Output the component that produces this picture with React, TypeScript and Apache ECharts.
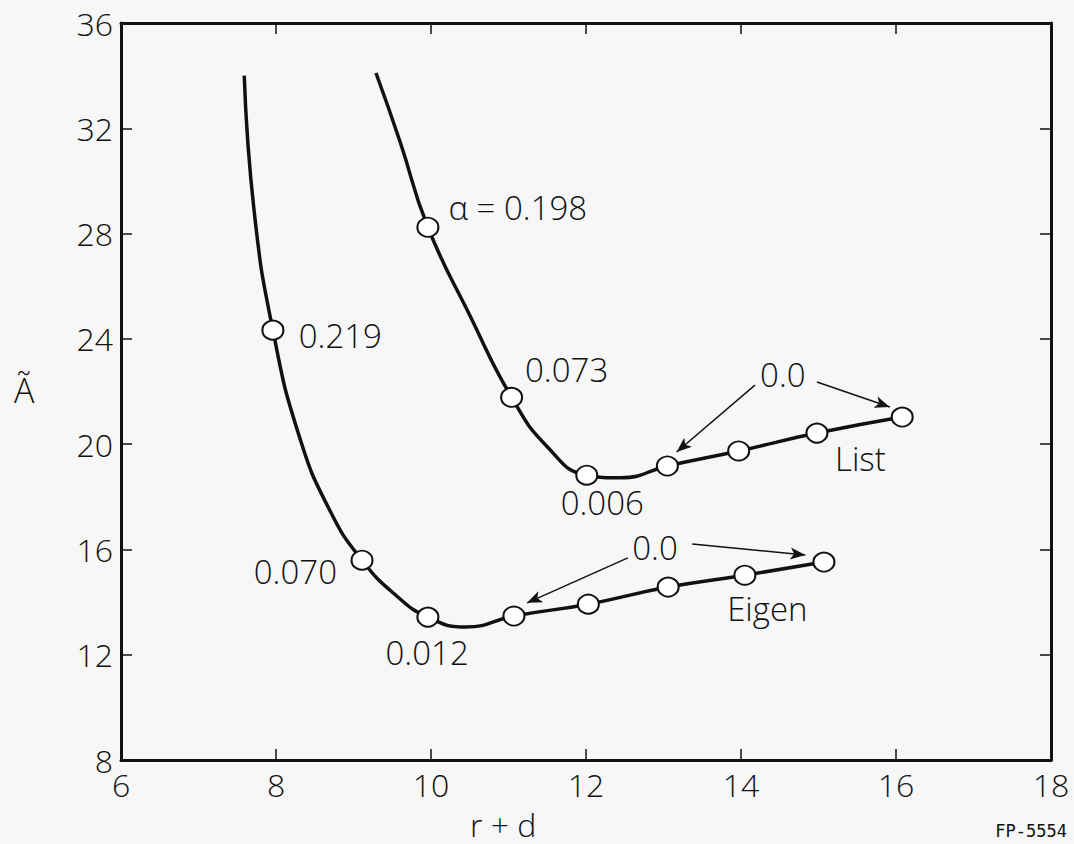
import React, { useEffect, useRef } from "react";
import * as echarts from "echarts";

// Axis ranges / ticks
const xTicks = [6, 8, 10, 12, 14, 16, 18];
const yTicks = [8, 12, 16, 20, 24, 28, 32, 36];

const listCurve: number[][] = [
  [9.29, 34.1], [9.6, 31.5], [9.96, 28.24], [10.5, 24.9], [11.04, 21.78],
  [11.5, 19.9], [12.01, 18.82], [12.45, 18.72], [13.05, 19.17], [13.97, 19.74],
  [14.98, 20.42], [16.08, 21.03],
];
const listPoints: number[][] = [
  [9.96, 28.24], [11.04, 21.78], [12.01, 18.82], [13.05, 19.17],
  [13.97, 19.74], [14.98, 20.42], [16.08, 21.03],
];

const eigenCurve: number[][] = [
  [7.59, 34.0], [7.72, 28.8], [7.96, 24.33], [8.3, 20.3], [8.7, 17.45],
  [9.11, 15.59], [9.55, 14.25], [9.96, 13.43], [10.45, 13.05], [11.07, 13.47],
  [12.03, 13.92], [13.06, 14.57], [14.05, 15.02], [15.07, 15.52],
];
const eigenPoints: number[][] = [
  [7.96, 24.33], [9.11, 15.59], [9.96, 13.43], [11.07, 13.47], [12.03, 13.92],
  [13.06, 14.57], [14.05, 15.02], [15.07, 15.52],
];

// Text annotations (data coordinates of label centres)
const annotationTexts = ["α = 0.198", "0.219", "0.073", "0.006", "0.070", "0.012", "0.0", "0.0", "List", "Eigen"];
const annotationPos: number[][] = [
  [11.12, 29.0], [8.83, 24.14], [11.75, 22.82], [12.21, 17.77], [8.25, 15.15],
  [9.95, 12.07], [14.54, 22.66], [12.89, 16.09], [15.54, 19.47], [14.34, 13.77],
];

// Arrows from "0.0" labels to points: [x1, y1, x2, y2]
const arrows: number[][] = [
  [14.18, 22.24, 13.17, 19.7],
  [14.98, 22.36, 15.92, 21.41],
  [12.54, 15.68, 11.24, 13.97],
  [13.37, 16.21, 14.83, 15.79],
];

const FONT = "'Open Sans', 'DejaVu Sans', sans-serif";
const INK = "#111111";

export default function App() {
  const ref = useRef<HTMLDivElement>(null);

  useEffect(() => {
    if (!ref.current) return;
    const chart = echarts.init(ref.current, undefined, { renderer: "svg" });

    const axisCommon = {
      axisLine: { show: true, lineStyle: { color: INK, width: 3 } },
      axisTick: { show: true, inside: true, length: 11, lineStyle: { color: INK, width: 1.5 } },
      splitLine: { show: false },
    };

    const markerStyle = { color: "#ffffff", borderColor: INK, borderWidth: 2, opacity: 1 };

    const option: any = {
      animation: false,
      backgroundColor: "#f7f7f7",
      grid: { left: 121, top: 23, right: 23, bottom: 84 },
      xAxis: [
        {
          type: "value",
          min: xTicks[0],
          max: xTicks[xTicks.length - 1],
          interval: 2,
          ...axisCommon,
          axisLabel: {
            color: INK, fontSize: 32, fontFamily: FONT, fontWeight: 300, margin: 8,
            formatter: (v: number) => (xTicks.includes(v) ? String(v) : ""),
          },
        },
        {
          type: "value", position: "top",
          min: xTicks[0], max: xTicks[xTicks.length - 1], interval: 2,
          ...axisCommon,
          axisLabel: { show: false },
        },
      ],
      yAxis: [
        {
          type: "value",
          min: yTicks[0],
          max: yTicks[yTicks.length - 1],
          interval: 4,
          ...axisCommon,
          axisLabel: {
            color: INK, fontSize: 32, fontFamily: FONT, fontWeight: 300, margin: 8,
            formatter: (v: number) => (yTicks.includes(v) ? String(v) : ""),
          },
        },
        {
          type: "value", position: "right",
          min: yTicks[0], max: yTicks[yTicks.length - 1], interval: 4,
          ...axisCommon,
          axisLabel: { show: false },
        },
      ],
      series: [
        {
          name: "List curve", type: "line", data: listCurve, smooth: 0.5,
          showSymbol: false, symbol: "none",
          lineStyle: { color: INK, width: 3.5 }, z: 2,
        },
        {
          name: "Eigen curve", type: "line", data: eigenCurve, smooth: 0.5,
          showSymbol: false, symbol: "none",
          lineStyle: { color: INK, width: 3.5 }, z: 2,
        },
        {
          name: "List", type: "scatter", data: listPoints, symbol: "circle", symbolSize: [21, 19],
          itemStyle: markerStyle, z: 3,
        },
        {
          name: "Eigen", type: "scatter", data: eigenPoints, symbol: "circle", symbolSize: [21, 19],
          itemStyle: markerStyle, z: 3,
        },
        {
          name: "annotations", type: "scatter", symbolSize: 0, z: 4, silent: true,
          data: annotationPos.map((p, i) => ({ value: p, name: annotationTexts[i] })),
          itemStyle: { opacity: 1 },
          label: {
            show: true, position: "inside", formatter: "{b}",
            color: INK, fontSize: 33, fontFamily: FONT, fontWeight: 300,
          },
          markLine: {
            silent: true,
            symbol: ["none", "arrow"],
            symbolSize: [9, 15],
            label: { show: false },
            lineStyle: { color: INK, width: 1.5, type: "solid", opacity: 1 },
            data: arrows.map((a) => [{ coord: [a[0], a[1]] }, { coord: [a[2], a[3]] }]),
          },
        },
      ],
      graphic: [
        {
          type: "text", left: 14, top: 373,
          style: { text: "Ã", fill: INK, fontSize: 34, fontFamily: FONT, fontWeight: 300 },
        },
        {
          type: "text", left: 470, top: 808,
          style: { text: "r + d", fill: INK, fontSize: 32, fontFamily: FONT, fontWeight: 300 },
        },
        {
          type: "text", right: 7, top: 822,
          style: { text: "FP-5554", fill: INK, fontSize: 17, fontFamily: "'DejaVu Sans Mono', monospace", fontWeight: "normal" },
        },
      ],
    };

    chart.setOption(option);
    return () => chart.dispose();
  }, []);

  return (
    <div
      ref={ref}
      style={{ position: "fixed", left: 0, top: 0, width: 1074, height: 844 }}
    />
  );
}
